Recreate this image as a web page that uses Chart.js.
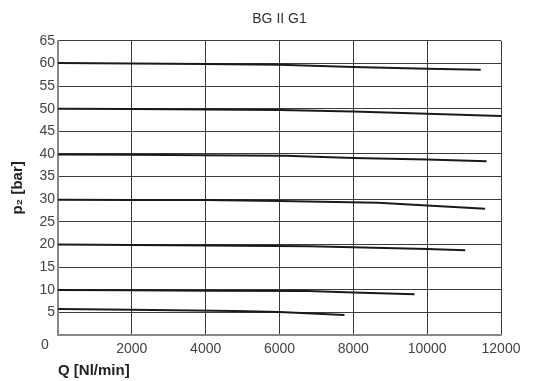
<!DOCTYPE html>
<html>
<head>
<meta charset="utf-8">
<script src="https://cdn.jsdelivr.net/npm/chart.js@4"></script>
<style>
  html, body { margin: 0; padding: 0; background: #fff; }
  #wrap { width: 535px; height: 381px; }
</style>
</head>
<body>
<div id="wrap"><canvas id="pressureChart"></canvas></div>
<script>
// flow values (Nl/min) and outlet pressure (bar), one pair per curve
const q60 = [0, 2000, 4000, 6000, 8000, 10000, 11450];
const p60 = [60.1, 60.0, 59.85, 59.7, 59.2, 58.8, 58.6];
const q50 = [0, 2000, 4000, 6000, 8000, 10000, 12000];
const p50 = [50.0, 49.95, 49.8, 49.7, 49.4, 48.9, 48.4];
const q40 = [0, 2000, 4000, 6170, 8000, 10000, 11610];
const p40 = [39.9, 39.8, 39.7, 39.6, 39.1, 38.8, 38.4];
const q30 = [0, 2000, 4000, 6000, 8670, 10000, 11570];
const p30 = [29.9, 29.85, 29.8, 29.6, 29.2, 28.6, 27.9];
const q20 = [0, 2000, 4000, 6820, 8000, 10000, 11030];
const p20 = [19.97, 19.9, 19.8, 19.6, 19.4, 19.0, 18.7];
const q10 = [0, 2000, 4000, 6780, 8000, 9660];
const p10 = [9.95, 9.9, 9.8, 9.7, 9.4, 9.0];
const q5 = [0, 2000, 4790, 6000, 7760];
const p5 = [5.75, 5.6, 5.3, 5.1, 4.4];

const curves = [[q60, p60], [q50, p50], [q40, p40], [q30, p30], [q20, p20], [q10, p10], [q5, p5]];

const fontFamily = "'Liberation Sans', 'DejaVu Sans', sans-serif";

function toPoints(qs, ps) {
  return qs.map((q, i) => ({ x: q, y: ps[i] }));
}

// the shared "0" sits in the lower left corner, below the y axis
const cornerZero = {
  id: 'cornerZero',
  afterDraw(chart) {
    const ctx = chart.ctx;
    const x = chart.scales.x;
    const y = chart.scales.y;
    ctx.save();
    ctx.font = '14px ' + fontFamily;
    ctx.fillStyle = '#444';
    ctx.textAlign = 'center';
    ctx.textBaseline = 'middle';
    ctx.fillText('0', x.left - 13, y.getPixelForValue(0) + 10);
    ctx.restore();
  }
};

const ctx = document.getElementById('pressureChart').getContext('2d');

new Chart(ctx, {
  type: 'line',
  data: {
    datasets: curves.map(([qs, ps]) => ({
      data: toPoints(qs, ps),
      borderColor: '#1a1a1a',
      borderWidth: 2,
      pointRadius: 0,
      tension: 0,
      fill: false
    }))
  },
  options: {
    responsive: true,
    maintainAspectRatio: false,
    animation: false,
    layout: { padding: { left: 0, right: 34, top: 0, bottom: 0 } },
    plugins: {
      legend: { display: false },
      tooltip: { enabled: false },
      title: {
        display: true,
        text: 'BG II G1',
        fullSize: false,
        color: '#333',
        font: { family: fontFamily, size: 14, weight: 'normal' },
        padding: { top: 11, bottom: 13 }
      }
    },
    scales: {
      x: {
        type: 'linear',
        min: 0,
        max: 12000,
        afterFit(scale) { scale.height = 46; },
        border: { color: '#888', width: 2 },
        grid: { color: '#3a3a3a', drawTicks: false },
        ticks: {
          stepSize: 2000,
          padding: 6,
          color: '#444',
          font: { family: fontFamily, size: 14 },
          maxRotation: 0,
          callback: (v) => (v === 0 ? '' : String(v))
        },
        title: {
          display: true,
          text: 'Q [Nl/min]',
          align: 'start',
          color: '#222',
          font: { family: fontFamily, size: 15, weight: 'bold' },
          padding: { top: 4, bottom: 1 }
        }
      },
      y: {
        min: 0,
        max: 65,
        afterFit(scale) { scale.width = 58; },
        border: { color: '#888', width: 2 },
        grid: { color: '#3a3a3a', drawTicks: false },
        ticks: {
          stepSize: 5,
          padding: 3,
          color: '#444',
          font: { family: fontFamily, size: 14 },
          callback: (v) => (v === 0 ? '' : String(v))
        },
        title: {
          display: true,
          text: 'p₂ [bar]',
          color: '#222',
          font: { family: fontFamily, size: 15, weight: 'bold' },
          padding: { top: 9, bottom: 0 }
        }
      }
    }
  },
  plugins: [cornerZero]
});
</script>
</body>
</html>
